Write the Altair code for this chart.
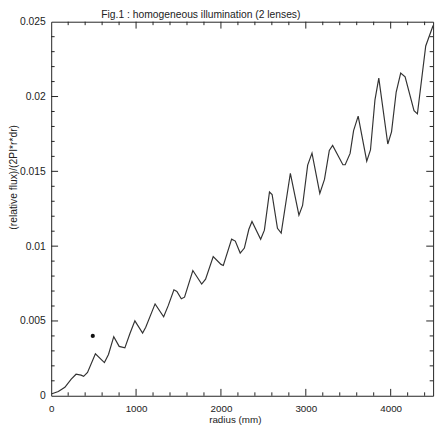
import altair as alt
import pandas as pd

# ---- data ----
radius = [0, 84, 161, 236, 293, 352, 382, 428, 521, 627,
          675, 737, 801, 868, 929, 986, 1077, 1114, 1224, 1325,
          1380, 1446, 1481, 1533, 1571, 1669, 1773, 1819, 1909, 2001,
          2028, 2126, 2169, 2227, 2276, 2329, 2366, 2468, 2512, 2572,
          2603, 2666, 2710, 2818, 2919, 2962, 3022, 3073, 3165, 3220,
          3277, 3316, 3437, 3464, 3522, 3563, 3617, 3718, 3762, 3815,
          3860, 3966, 4010, 4065, 4118, 4170, 4275, 4315, 4413, 4500]
flux = [0.00012, 0.00028, 0.00057, 0.00111, 0.00144, 0.00138, 0.0013, 0.00156, 0.0028, 0.00222,
        0.00276, 0.00395, 0.0033, 0.0032, 0.00418, 0.00501, 0.00419, 0.00458, 0.00614, 0.00528,
        0.00604, 0.00708, 0.00697, 0.00648, 0.00659, 0.00837, 0.00747, 0.00779, 0.00931, 0.00878,
        0.00871, 0.01047, 0.01034, 0.00954, 0.00987, 0.01113, 0.01165, 0.01046, 0.01107, 0.01362,
        0.01345, 0.01119, 0.01087, 0.01487, 0.01207, 0.01272, 0.01542, 0.01622, 0.01353, 0.01446,
        0.0164, 0.01673, 0.01544, 0.01544, 0.0162, 0.01772, 0.01869, 0.01568, 0.01643, 0.01978,
        0.02123, 0.01683, 0.01764, 0.0203, 0.02157, 0.02131, 0.01905, 0.01884, 0.02338, 0.02475]

dot_radius = [490]
dot_flux = [0.0040]

x_labels = [0, 1000, 2000, 3000, 4000]
y_labels = [0, 0.005, 0.01, 0.015, 0.02, 0.025]
x_major_ticks = [1000, 2000, 3000, 4000]
x_minor_ticks = [200, 400, 600, 800, 1200, 1400, 1600, 1800, 2200, 2400, 2600, 2800,
                 3200, 3400, 3600, 3800, 4200, 4400]
y_major_ticks = [0.005, 0.01, 0.015, 0.02]
y_minor_ticks = [0.001, 0.002, 0.003, 0.004, 0.006, 0.007, 0.008, 0.009,
                 0.011, 0.012, 0.013, 0.014, 0.016, 0.017, 0.018, 0.019,
                 0.021, 0.022, 0.023, 0.024]

W, H = 389, 381
FONT = "Liberation Sans"
INK = "#222222"
MAJ, MIN = 7, 3.5

xs = alt.Scale(domain=[0, 4500], nice=False, zero=False)
ys = alt.Scale(domain=[0, 0.025], nice=False, zero=False)

curve = pd.DataFrame({"radius": radius, "flux": flux})
dots = pd.DataFrame({"radius": dot_radius, "flux": dot_flux})

line = alt.Chart(curve).mark_line(color="#333333", strokeWidth=1.2, clip=True).encode(
    x=alt.X("radius:Q", scale=xs,
            axis=alt.Axis(values=x_labels, format="d", domain=False, ticks=False, grid=False,
                          labelFont=FONT, labelFontSize=10, labelColor=INK, labelPadding=8,
                          labelFlush=False, labelOverlap=False,
                          title="radius (mm)", titleFont=FONT, titleFontSize=10,
                          titleFontWeight="normal", titleColor=INK,
                          titleX=187, titleY=27, titleBaseline="alphabetic")),
    y=alt.Y("flux:Q", scale=ys,
            axis=alt.Axis(values=y_labels, format=".3~f", domain=False, ticks=False, grid=False,
                          labelFont=FONT, labelFontSize=10.5, labelColor=INK, labelPadding=6,
                          labelFlush=False, labelOverlap=False,
                          title="(relative flux)/(2PI*r*dr)", titleFont=FONT, titleFontSize=10.5,
                          titleFontWeight="normal", titleColor=INK, titleAngle=270,
                          titleX=-38, titleY=158, titleBaseline="middle")),
)

dot = alt.Chart(dots).mark_circle(color="#111111", size=18, opacity=1).encode(
    x=alt.X("radius:Q", scale=xs), y=alt.Y("flux:Q", scale=ys))


def xticks(vals, bottom, length):
    df = pd.DataFrame({"v": vals})
    y0 = H if bottom else 0
    y1 = H - length if bottom else length
    return alt.Chart(df).mark_rule(color=INK, strokeWidth=1).encode(
        x=alt.X("v:Q", scale=xs), y=alt.value(y0), y2=alt.value(y1))


def yticks(vals, left, length):
    df = pd.DataFrame({"v": vals})
    x0 = 0 if left else W
    x1 = length if left else W - length
    return alt.Chart(df).mark_rule(color=INK, strokeWidth=1).encode(
        y=alt.Y("v:Q", scale=ys), x=alt.value(x0), x2=alt.value(x1))


ticks = [
    xticks(x_major_ticks, True, MAJ), xticks(x_minor_ticks, True, MIN),
    xticks(x_major_ticks, False, MAJ), xticks(x_minor_ticks, False, MIN),
    yticks(y_major_ticks, True, MAJ), yticks(y_minor_ticks, True, MIN),
    yticks(y_major_ticks, False, MAJ), yticks(y_minor_ticks, False, MIN),
]

chart = alt.layer(line, dot, *ticks).properties(
    width=W, height=H,
    autosize=alt.AutoSizeParams(type="none"),
    padding={"left": 44, "top": 10, "right": 6, "bottom": 37},
    background="white",
    title=alt.TitleParams("Fig.1 : homogeneous illumination (2 lenses)", anchor="start",
                          frame="group", dx=51, dy=12, offset=0, baseline="alphabetic",
                          font=FONT, fontSize=10.5, fontWeight="normal", color=INK),
).configure_view(stroke=INK, strokeWidth=1)

chart.save("out.html", embed_options={"renderer": "svg", "actions": False})
